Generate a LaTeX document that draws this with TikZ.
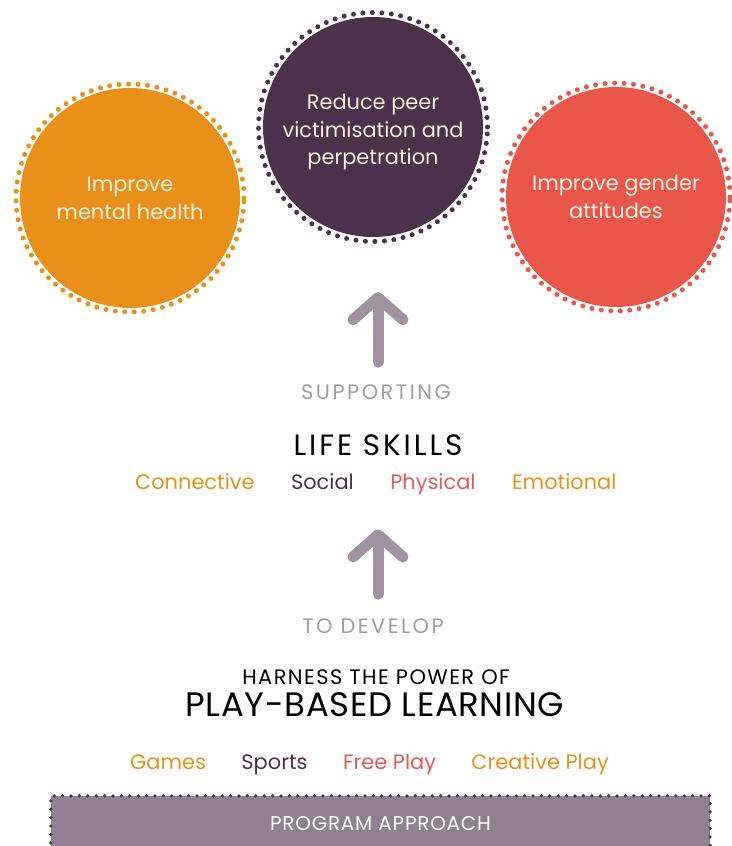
\documentclass[tikz,border=0pt]{standalone}
\usepackage{fontspec}
\setmainfont{Poppins}
\usetikzlibrary{positioning,arrows.meta}

\definecolor{goalorange}{HTML}{E8901A}
\definecolor{goalplum}{HTML}{4B3149}
\definecolor{goalred}{HTML}{E8574A}
\definecolor{skillred}{HTML}{E05A5E}
\definecolor{arrowgrey}{HTML}{A0929F}
\definecolor{labelgrey}{HTML}{A39AA3}
\definecolor{basemauve}{HTML}{8F8190}
\definecolor{circletext}{HTML}{FBEFE0}

\begin{document}
\begin{tikzpicture}[x=1bp, y=-1bp,
			% gefuellter Kreis fuer die Ziele
			goal/.style={circle, fill=#1, minimum size=220bp, inner sep=0pt, text=circletext, align=center, font=\fontsize{21}{28}\selectfont},
			goaltext/.style={inner sep=0pt, text=circletext, align=center, font=\fontsize{21}{28}\selectfont},
			% Punktkranz um einen Kreis
			dotring/.style={draw=#1, line width=5bp, line cap=round, dash pattern=on 0bp off 9.5bp},
			% Beschriftung ohne Rand
			word/.style={inner sep=0pt, anchor=base, text=#1, font=\fontsize{21}{24}\selectfont},
			% gesperrte Grossbuchstaben
			caps/.style={word=#1, font=\fontsize{21}{24}\selectfont\addfontfeature{LetterSpace=12}},
			% dicker Pfeil nach oben
			uparrow/.style={draw=arrowgrey, line width=11bp, line cap=round, -{Straight Barb[round, length=22bp, width=50bp]}},
			% Leiste unten
			approach/.style={rectangle, fill=basemauve, minimum width=659bp, minimum height=55bp, inner sep=0pt, text=white, font=\fontsize{20}{24}\selectfont\addfontfeature{LetterSpace=4}},
			dotline/.style={draw=goalplum, line width=3.5bp, line cap=round, dash pattern=on 0bp off 8.4bp}
		]
		\useasboundingbox (0,0) rectangle (732,846);

		%Circles
		\node[goal=goalorange]  (mental)        at (130,198)                                {Improve\\mental health};
		\node[goal=goalplum]    (victim)        at (373,127)                                {};
		\node[goaltext]         (victimtext)    at (373,132)                                {Reduce peer\\victimisation and\\perpetration};
		\node[goal=goalred]     (gender)        at (616,197)                                {Improve gender\\attitudes};
		\draw[dotring=goalorange] (mental.center) circle (114bp);
		\draw[dotring=goalplum]   (victim.center) circle (114.5bp);
		\draw[dotring=goalred]    (gender.center) circle (114bp);

		%Nodes
		\node[caps=labelgrey]   (supporting)    at (376,399)                                {SUPPORTING};
		\node[word=black, font=\fontsize{29.5}{32}\selectfont\addfontfeature{LetterSpace=10}]
		                        (lifeskills)    at (378,455)                                {LIFE SKILLS};
		\node[word=goalorange, anchor=base west]
		                        (connective)    at (135,489)                                {Connective};
		\node[word=goalplum]    (social)        [base right=36bp of connective]             {Social};
		\node[word=skillred]    (physical)      [base right=36bp of social]                 {Physical};
		\node[word=goalorange]  (emotional)     [base right=36bp of physical]               {Emotional};
		\node[caps=labelgrey]   (develop)       at (373,633)                                {TO DEVELOP};
		\node[word=black, font=\fontsize{21}{24}\selectfont\addfontfeature{LetterSpace=7}]
		                        (harness)       at (376,684)                                {HARNESS THE POWER OF};
		\node[word=black, font=\fontsize{34}{38}\selectfont\addfontfeature{LetterSpace=2}]
		                        (playlearning)  at (375,716)                                {PLAY-BASED LEARNING};
		\node[word=goalorange, anchor=base west]
		                        (games)         at (130,769)                                {Games};
		\node[word=goalplum]    (sports)        [base right=35bp of games]                  {Sports};
		\node[word=skillred]    (freeplay)      [base right=35bp of sports]                 {Free Play};
		\node[word=goalorange]  (creative)      [base right=35bp of freeplay]               {Creative Play};
		\node[approach]         (program)       at (380.5,823.5)                            {PROGRAM APPROACH};

		%Lines
		\draw[uparrow, shorten <=22bp, shorten >=55bp] (supporting.north -| lifeskills) -- (victim.south -| lifeskills);
		\draw[uparrow, shorten <=24bp, shorten >=74bp] (develop.north -| lifeskills) -- (lifeskills.south);
		\draw[dotline] (program.south west) -- (program.north west) -- (program.north east) -- (program.south east);
	\end{tikzpicture}
\end{document}
